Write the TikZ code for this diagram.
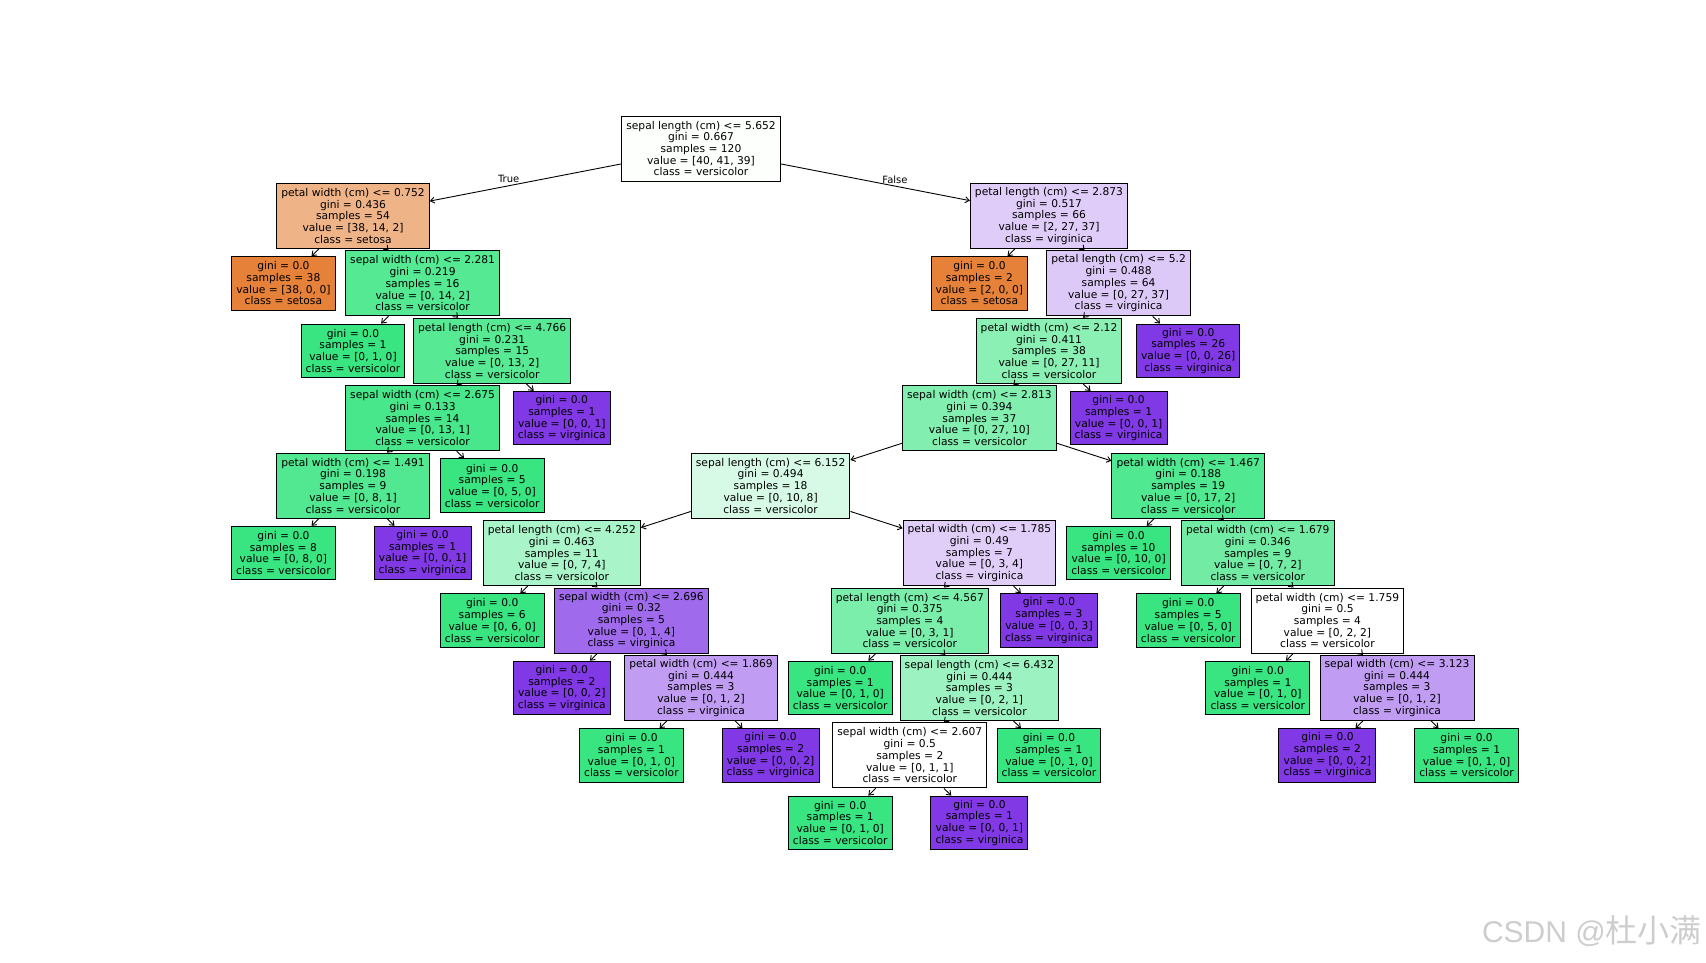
\documentclass[tikz,border=0pt]{standalone}
\usepackage{fontspec}
\usetikzlibrary{arrows.meta}
\newfontfamily\dv{DejaVu Sans}
\newfontfamily\cjkf{Noto Sans CJK SC}
\newfontfamily\libs{Liberation Sans}
\definecolor{cRoot}{RGB}{253,255,253}
\definecolor{cSet}{RGB}{229,129,57}
\definecolor{cVer}{RGB}{57,229,129}
\definecolor{cVir}{RGB}{129,57,229}
\definecolor{cA}{RGB}{239,179,136}
\definecolor{cA2}{RGB}{85,233,147}
\definecolor{cA22}{RGB}{87,233,148}
\definecolor{cA221}{RGB}{72,231,139}
\definecolor{cA2211}{RGB}{82,232,145}
\definecolor{c074}{RGB}{170,244,201}
\definecolor{c014}{RGB}{160,106,236}
\definecolor{c012}{RGB}{192,156,242}
\definecolor{cB}{RGB}{223,204,248}
\definecolor{cB2}{RGB}{221,201,248}
\definecolor{cB21}{RGB}{138,240,180}
\definecolor{cC}{RGB}{130,239,176}
\definecolor{cD}{RGB}{215,250,230}
\definecolor{cL}{RGB}{80,232,144}
\definecolor{cH}{RGB}{224,206,248}
\definecolor{cM}{RGB}{114,236,165}
\definecolor{cI}{RGB}{123,238,171}
\definecolor{c021}{RGB}{156,242,192}
\definecolor{wm}{RGB}{205,205,205}
\begin{document}
\begin{tikzpicture}[x=1pt,y=-1pt,
  tp/.style 2 args={at={({283.4+69.6*#1},{148.5+67.43*#2})}},
  tbox/.style={draw=black, line width=1pt, align=center, inner xsep=4.6pt, inner ysep=0pt,
    minimum height=65pt, font=\dv\fontsize{10.7}{11.7}\selectfont},
  lbox/.style={tbox, minimum height=53.5pt},
  conn/.style={-{Straight Barb[length=4pt,width=6pt]}, line width=0.9pt},
  elab/.style={font=\dv\fontsize{10}{12}\selectfont, inner sep=0pt}
  ]
\useasboundingbox (0,0) rectangle (1706,962);
% True branch
\node[tbox, fill=cRoot, tp={6}{0}] (r) {sepal length (cm) <= 5.652\\gini = 0.667\\samples = 120\\value = [40, 41, 39]\\class = versicolor};
\node[tbox, fill=cA, tp={1}{1}] (a) {petal width (cm) <= 0.752\\gini = 0.436\\samples = 54\\value = [38, 14, 2]\\class = setosa};
\node[lbox, fill=cSet, tp={0}{2}] (a1) {gini = 0.0\\samples = 38\\value = [38, 0, 0]\\class = setosa};
\node[tbox, fill=cA2, tp={2}{2}] (a2) {sepal width (cm) <= 2.281\\gini = 0.219\\samples = 16\\value = [0, 14, 2]\\class = versicolor};
\node[lbox, fill=cVer, tp={1}{3}] (a21) {gini = 0.0\\samples = 1\\value = [0, 1, 0]\\class = versicolor};
\node[tbox, fill=cA22, tp={3}{3}] (a22) {petal length (cm) <= 4.766\\gini = 0.231\\samples = 15\\value = [0, 13, 2]\\class = versicolor};
\node[tbox, fill=cA221, tp={2}{4}] (a221) {sepal width (cm) <= 2.675\\gini = 0.133\\samples = 14\\value = [0, 13, 1]\\class = versicolor};
\node[lbox, fill=cVir, tp={4}{4}] (a222) {gini = 0.0\\samples = 1\\value = [0, 0, 1]\\class = virginica};
\node[tbox, fill=cA2211, tp={1}{5}] (a2211) {petal width (cm) <= 1.491\\gini = 0.198\\samples = 9\\value = [0, 8, 1]\\class = versicolor};
\node[lbox, fill=cVer, tp={3}{5}] (a2212) {gini = 0.0\\samples = 5\\value = [0, 5, 0]\\class = versicolor};
\node[lbox, fill=cVer, tp={0}{6}] (a22111) {gini = 0.0\\samples = 8\\value = [0, 8, 0]\\class = versicolor};
\node[lbox, fill=cVir, tp={2}{6}] (a22112) {gini = 0.0\\samples = 1\\value = [0, 0, 1]\\class = virginica};
% False branch
\node[tbox, fill=cB, tp={11}{1}] (b) {petal length (cm) <= 2.873\\gini = 0.517\\samples = 66\\value = [2, 27, 37]\\class = virginica};
\node[lbox, fill=cSet, tp={10}{2}] (b1) {gini = 0.0\\samples = 2\\value = [2, 0, 0]\\class = setosa};
\node[tbox, fill=cB2, tp={12}{2}] (b2) {petal length (cm) <= 5.2\\gini = 0.488\\samples = 64\\value = [0, 27, 37]\\class = virginica};
\node[tbox, fill=cB21, tp={11}{3}] (b21) {petal width (cm) <= 2.12\\gini = 0.411\\samples = 38\\value = [0, 27, 11]\\class = versicolor};
\node[lbox, fill=cVir, tp={13}{3}] (b22) {gini = 0.0\\samples = 26\\value = [0, 0, 26]\\class = virginica};
\node[tbox, fill=cC, tp={10}{4}] (c) {sepal width (cm) <= 2.813\\gini = 0.394\\samples = 37\\value = [0, 27, 10]\\class = versicolor};
\node[lbox, fill=cVir, tp={12}{4}] (b212) {gini = 0.0\\samples = 1\\value = [0, 0, 1]\\class = virginica};
\node[tbox, fill=cD, tp={7}{5}] (d) {sepal length (cm) <= 6.152\\gini = 0.494\\samples = 18\\value = [0, 10, 8]\\class = versicolor};
\node[tbox, fill=cL, tp={13}{5}] (l) {petal width (cm) <= 1.467\\gini = 0.188\\samples = 19\\value = [0, 17, 2]\\class = versicolor};
\node[tbox, fill=c074, tp={4}{6}] (e) {petal length (cm) <= 4.252\\gini = 0.463\\samples = 11\\value = [0, 7, 4]\\class = versicolor};
\node[tbox, fill=cH, tp={10}{6}] (h) {petal width (cm) <= 1.785\\gini = 0.49\\samples = 7\\value = [0, 3, 4]\\class = virginica};
\node[lbox, fill=cVer, tp={12}{6}] (l1) {gini = 0.0\\samples = 10\\value = [0, 10, 0]\\class = versicolor};
\node[tbox, fill=cM, tp={14}{6}] (m) {petal width (cm) <= 1.679\\gini = 0.346\\samples = 9\\value = [0, 7, 2]\\class = versicolor};
\node[lbox, fill=cVer, tp={3}{7}] (e1) {gini = 0.0\\samples = 6\\value = [0, 6, 0]\\class = versicolor};
\node[tbox, fill=c014, tp={5}{7}] (f) {sepal width (cm) <= 2.696\\gini = 0.32\\samples = 5\\value = [0, 1, 4]\\class = virginica};
\node[tbox, fill=cI, tp={9}{7}] (i) {petal length (cm) <= 4.567\\gini = 0.375\\samples = 4\\value = [0, 3, 1]\\class = versicolor};
\node[lbox, fill=cVir, tp={11}{7}] (h2) {gini = 0.0\\samples = 3\\value = [0, 0, 3]\\class = virginica};
\node[lbox, fill=cVer, tp={13}{7}] (m1) {gini = 0.0\\samples = 5\\value = [0, 5, 0]\\class = versicolor};
\node[tbox, fill=white, tp={15}{7}] (n) {petal width (cm) <= 1.759\\gini = 0.5\\samples = 4\\value = [0, 2, 2]\\class = versicolor};
\node[lbox, fill=cVir, tp={4}{8}] (f1) {gini = 0.0\\samples = 2\\value = [0, 0, 2]\\class = virginica};
\node[tbox, fill=c012, tp={6}{8}] (g) {petal width (cm) <= 1.869\\gini = 0.444\\samples = 3\\value = [0, 1, 2]\\class = virginica};
\node[lbox, fill=cVer, tp={8}{8}] (i1) {gini = 0.0\\samples = 1\\value = [0, 1, 0]\\class = versicolor};
\node[tbox, fill=c021, tp={10}{8}] (j) {sepal length (cm) <= 6.432\\gini = 0.444\\samples = 3\\value = [0, 2, 1]\\class = versicolor};
\node[lbox, fill=cVer, tp={14}{8}] (n1) {gini = 0.0\\samples = 1\\value = [0, 1, 0]\\class = versicolor};
\node[tbox, fill=c012, tp={16}{8}] (o) {sepal width (cm) <= 3.123\\gini = 0.444\\samples = 3\\value = [0, 1, 2]\\class = virginica};
\node[lbox, fill=cVer, tp={5}{9}] (g1) {gini = 0.0\\samples = 1\\value = [0, 1, 0]\\class = versicolor};
\node[lbox, fill=cVir, tp={7}{9}] (g2) {gini = 0.0\\samples = 2\\value = [0, 0, 2]\\class = virginica};
\node[tbox, fill=white, tp={9}{9}] (k) {sepal width (cm) <= 2.607\\gini = 0.5\\samples = 2\\value = [0, 1, 1]\\class = versicolor};
\node[lbox, fill=cVer, tp={11}{9}] (j2) {gini = 0.0\\samples = 1\\value = [0, 1, 0]\\class = versicolor};
\node[lbox, fill=cVir, tp={15}{9}] (o1) {gini = 0.0\\samples = 2\\value = [0, 0, 2]\\class = virginica};
\node[lbox, fill=cVer, tp={17}{9}] (o2) {gini = 0.0\\samples = 1\\value = [0, 1, 0]\\class = versicolor};
\node[lbox, fill=cVer, tp={8}{10}] (k1) {gini = 0.0\\samples = 1\\value = [0, 1, 0]\\class = versicolor};
\node[lbox, fill=cVir, tp={10}{10}] (k2) {gini = 0.0\\samples = 1\\value = [0, 0, 1]\\class = virginica};
% connectors
\foreach \p/\q in {r/a, r/b, a/a1, a/a2, a2/a21, a2/a22, a22/a221, a22/a222, a221/a2211, a221/a2212,
  a2211/a22111, a2211/a22112, b/b1, b/b2, b2/b21, b2/b22, b21/c, b21/b212, c/d, c/l, d/e, d/h,
  e/e1, e/f, f/f1, f/g, g/g1, g/g2, h/i, h/h2, i/i1, i/j, j/k, j/j2, k/k1, k/k2, l/l1, l/m,
  m/m1, m/n, n/n1, n/o, o/o1, o/o2}
  \draw[conn] (\p) -- (\q);
\node[elab] (tl) at (508.7,179.3) {True};
\node[elab] (fl) at (895,179.3) {False};
% watermark
\node[anchor=base east, inner sep=0pt, text=wm] (wmk) at (1702,942)
  {{\libs\fontsize{30}{30}\selectfont CSDN @}{\cjkf\fontsize{32}{32}\selectfont 杜小满}};
\end{tikzpicture}
\end{document}
